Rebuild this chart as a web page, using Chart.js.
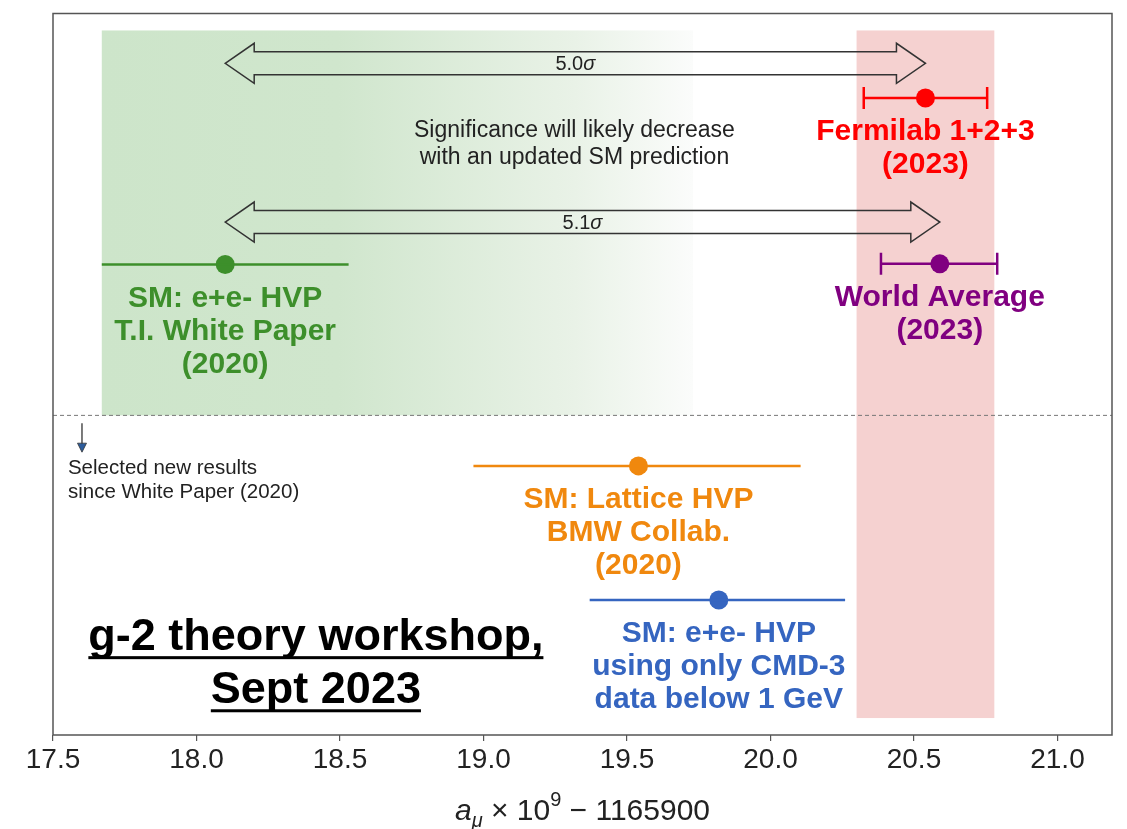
<!DOCTYPE html>
<html>
<head>
<meta charset="utf-8">
<script src="https://cdn.jsdelivr.net/npm/chart.js@4/dist/chart.umd.min.js"></script>
<style>
  html, body { margin: 0; background: #fff; }
  #wrap { width: 1127px; height: 829px; }
</style>
</head>
<body>
<div id="wrap"><canvas id="g2Chart" width="1127" height="829"></canvas></div>
<script>
// measurements and predictions: a_mu x 1e9 - 1165900
const names    = ['Fermilab 1+2+3', 'World Average', 'SM e+e- WP', 'SM Lattice BMW', 'SM e+e- CMD-3'];
const centers  = [20.54, 20.59, 18.10, 19.54, 19.82];
const lows     = [20.325, 20.385, 17.67, 18.965, 19.37];
const highs    = [20.755, 20.79, 18.53, 20.105, 20.26];
const rows     = [8.83, 6.53, 6.52, 3.73, 1.87];
const capped   = [true, true, false, false, false];
const captions = [
    ['Fermilab 1+2+3', '(2023)'],
    ['World Average', '(2023)'],
    ['SM: e+e- HVP', 'T.I. White Paper', '(2020)'],
    ['SM: Lattice HVP', 'BMW Collab.', '(2020)'],
    ['SM: e+e- HVP', 'using only CMD-3', 'data below 1 GeV']
];
const xTicks = [17.5, 18.0, 18.5, 19.0, 19.5, 20.0, 20.5, 21.0];

// bands and tension arrows
const pinkBand  = [20.30, 20.78];
const greenBand = [17.67, 19.73];
const sigmaLabels  = ['5.0σ', '5.1σ'];
const sigmaTargets = [0, 1];   // arrow from the WP value to these rows
const sigmaRows    = [9.31, 7.11];

const colors = ['#ff0000', '#800080', '#3d8f2b', '#f0880e', '#3565c0'];
const FONT = '"Liberation Sans", Arial, sans-serif';

function hollowArrow(ctx, x0, x1, yc) {
    const sh = 11.5, hh = 20, hl = 29;
    ctx.beginPath();
    ctx.moveTo(x0, yc);
    ctx.lineTo(x0 + hl, yc - hh);
    ctx.lineTo(x0 + hl, yc - sh);
    ctx.lineTo(x1 - hl, yc - sh);
    ctx.lineTo(x1 - hl, yc - hh);
    ctx.lineTo(x1, yc);
    ctx.lineTo(x1 - hl, yc + hh);
    ctx.lineTo(x1 - hl, yc + sh);
    ctx.lineTo(x0 + hl, yc + sh);
    ctx.lineTo(x0 + hl, yc + hh);
    ctx.closePath();
    ctx.stroke();
}

const overlay = {
    id: 'overlay',
    beforeDatasetsDraw(chart) {
        const { ctx, chartArea: a, scales: { x, y } } = chart;
        ctx.save();
        // green WP band, fading out to the right
        const gx0 = x.getPixelForValue(greenBand[0]);
        const gx1 = x.getPixelForValue(greenBand[1]);
        const top = y.getPixelForValue(9.765);
        const divider = y.getPixelForValue(4.43);
        const grad = ctx.createLinearGradient(gx0, 0, gx1, 0);
        grad.addColorStop(0, '#cde5ca');
        grad.addColorStop(0.4, '#d0e6cd');
        grad.addColorStop(0.8, '#e9f2e7');
        grad.addColorStop(1, '#fbfcfb');
        ctx.fillStyle = grad;
        ctx.fillRect(gx0, top, gx1 - gx0, divider - top);

        // pink experimental band
        const px0 = x.getPixelForValue(pinkBand[0]);
        const px1 = x.getPixelForValue(pinkBand[1]);
        ctx.fillStyle = '#f5d1d0';
        ctx.fillRect(px0, top, px1 - px0, y.getPixelForValue(0.235) - top);

        // dashed divider
        ctx.strokeStyle = '#777';
        ctx.lineWidth = 1;
        ctx.setLineDash([4, 3]);
        ctx.beginPath();
        ctx.moveTo(a.left, divider);
        ctx.lineTo(a.right, divider);
        ctx.stroke();
        ctx.setLineDash([]);

        // tension arrows
        ctx.strokeStyle = '#333';
        ctx.lineWidth = 1.5;
        ctx.fillStyle = '#222';
        ctx.textAlign = 'center';
        ctx.textBaseline = 'middle';
        sigmaLabels.forEach((lab, i) => {
            const x0 = x.getPixelForValue(centers[2]);
            const x1 = x.getPixelForValue(centers[sigmaTargets[i]]);
            const yc = y.getPixelForValue(sigmaRows[i]);
            hollowArrow(ctx, x0, x1, yc);
            const num = lab.slice(0, -1);
            ctx.font = '20px ' + FONT;
            const w1 = ctx.measureText(num).width;
            ctx.font = 'italic 20px ' + FONT;
            const w2 = ctx.measureText('σ').width;
            const xm = (x0 + x1) / 2 - (w1 + w2) / 2;
            ctx.textAlign = 'left';
            ctx.font = '20px ' + FONT;
            ctx.fillText(num, xm, yc + 1);
            ctx.font = 'italic 20px ' + FONT;
            ctx.fillText('σ', xm + w1, yc + 1);
            ctx.textAlign = 'center';
        });

        // significance note
        ctx.font = '23px ' + FONT;
        ctx.fillStyle = '#222';
        ctx.fillText('Significance will likely decrease', x.getPixelForValue(19.317), y.getPixelForValue(8.37));
        ctx.fillText('with an updated SM prediction', x.getPixelForValue(19.317), y.getPixelForValue(8.0));

        // "selected new results" note with small arrow
        const ax = x.getPixelForValue(17.601);
        const ay0 = y.getPixelForValue(4.32), ay1 = y.getPixelForValue(3.92);
        ctx.strokeStyle = '#333';
        ctx.lineWidth = 1.3;
        ctx.beginPath();
        ctx.moveTo(ax, ay0);
        ctx.lineTo(ax, ay1 - 7);
        ctx.stroke();
        ctx.fillStyle = '#2c5c9c';
        ctx.strokeStyle = '#333';
        ctx.lineWidth = 0.8;
        ctx.beginPath();
        ctx.moveTo(ax - 4.5, ay1 - 9);
        ctx.lineTo(ax + 4.5, ay1 - 9);
        ctx.lineTo(ax, ay1);
        ctx.closePath();
        ctx.fill();
        ctx.stroke();
        ctx.fillStyle = '#222';
        ctx.textAlign = 'left';
        ctx.font = '20.5px ' + FONT;
        ctx.fillText('Selected new results', x.getPixelForValue(17.552), y.getPixelForValue(3.69));
        ctx.fillText('since White Paper (2020)', x.getPixelForValue(17.552), y.getPixelForValue(3.36));

        // workshop note
        ctx.textAlign = 'center';
        ctx.font = 'bold 45px ' + FONT;
        ctx.fillStyle = '#000';
        [['g-2 theory workshop,', 1.356], ['Sept 2023', 0.62]].forEach(([t, v]) => {
            const cx = x.getPixelForValue(18.416), cy = y.getPixelForValue(v);
            ctx.fillText(t, cx, cy);
            const w = ctx.measureText(t).width;
            ctx.fillRect(cx - w / 2, cy + 19, w, 3);
        });
        ctx.restore();
    },
    afterDatasetsDraw(chart) {
        const { ctx, chartArea: a, scales: { x, y } } = chart;
        ctx.save();
        ctx.textAlign = 'center';
        ctx.textBaseline = 'middle';
        ctx.font = 'bold 30px ' + FONT;
        captions.forEach((lines, i) => {
            const cx = x.getPixelForValue(centers[i]);
            const cy = y.getPixelForValue(rows[i]);
            ctx.fillStyle = colors[i];
            lines.forEach((t, k) => ctx.fillText(t, cx, cy + 33 * (k + 1) + 1));
        });

        // frame
        ctx.strokeStyle = '#555';
        ctx.lineWidth = 1.5;
        ctx.strokeRect(a.left, a.top, a.right - a.left, a.bottom - a.top);

        // axis title: a_mu x 10^9 - 1165900
        const base = 820;
        const parts = [
            ['a', 'italic 30px ' + FONT, 0],
            ['μ', 'italic 20px ' + FONT, 7],
            [' × 10', '30px ' + FONT, 0],
            ['9', '20px ' + FONT, -14],
            [' − 1165900', '30px ' + FONT, 0]
        ];
        let total = 0;
        parts.forEach(p => { ctx.font = p[1]; total += ctx.measureText(p[0]).width; });
        let px = (a.left + a.right) / 2 - total / 2;
        ctx.textAlign = 'left';
        ctx.textBaseline = 'alphabetic';
        ctx.fillStyle = '#222';
        parts.forEach(p => {
            ctx.font = p[1];
            ctx.fillText(p[0], px, base + p[2]);
            px += ctx.measureText(p[0]).width;
        });
        ctx.restore();
    }
};

const datasets = [];
centers.forEach((c, i) => {
    datasets.push({
        type: 'line',
        label: names[i] + ' error',
        data: [{ x: lows[i], y: rows[i] }, { x: highs[i], y: rows[i] }],
        borderColor: colors[i],
        borderWidth: 2.5,
        pointStyle: 'line',
        pointRotation: 90,
        pointRadius: capped[i] ? 11 : 0,
        pointBorderColor: colors[i],
        pointBorderWidth: 2.5
    });
});
datasets.push({
    type: 'scatter',
    label: 'central values',
    data: centers.map((c, i) => ({ x: c, y: rows[i] })),
    backgroundColor: colors,
    borderWidth: 0,
    pointRadius: 9.5
});

const ctx = document.getElementById('g2Chart').getContext('2d');
new Chart(ctx, {
    type: 'line',
    data: { datasets },
    options: {
        responsive: false,
        devicePixelRatio: 1,
        animation: false,
        layout: { padding: { left: 53, right: 15, top: 12, bottom: 0 } },
        plugins: { legend: { display: false }, tooltip: { enabled: false } },
        scales: {
            x: {
                type: 'linear',
                min: 17.5,
                max: 21.19,
                afterBuildTicks: s => { s.ticks = xTicks.map(v => ({ value: v })); },
                afterFit: s => { s.height = 94; },
                border: { display: false },
                grid: { drawOnChartArea: false, tickLength: 6, color: '#555', lineWidth: 1.2 },
                ticks: {
                    callback: v => v.toFixed(1),
                    font: { family: FONT, size: 28 },
                    color: '#222',
                    padding: 2,
                    maxRotation: 0
                }
            },
            y: { type: 'linear', min: 0, max: 10, display: false }
        }
    },
    plugins: [overlay]
});
</script>
</body>
</html>
